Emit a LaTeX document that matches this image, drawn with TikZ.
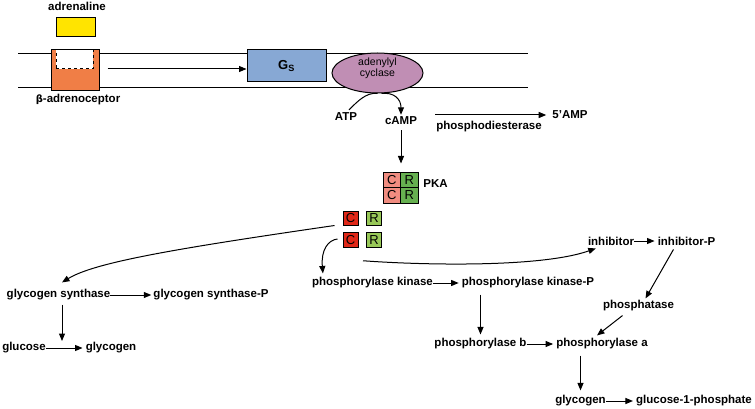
\documentclass[tikz,border=0pt]{standalone}
\usepackage{fontspec}
\setmainfont{Liberation Sans}
\usetikzlibrary{arrows.meta,shapes.geometric}
\definecolor{cyel}{RGB}{255,228,0}
\definecolor{corange}{RGB}{240,126,70}
\definecolor{cblue}{RGB}{135,168,212}
\definecolor{cpurple}{RGB}{192,142,180}
\definecolor{cpink}{RGB}{240,140,128}
\definecolor{cgreen}{RGB}{102,176,80}
\definecolor{cred}{RGB}{224,40,24}
\definecolor{clgreen}{RGB}{152,200,88}
\begin{document}
\begin{tikzpicture}[x=1pt,y=-1pt,
  lbl/.style={font=\fontsize{11.5}{13}\selectfont\bfseries, inner sep=0pt},
  arr/.style={-{Triangle[length=7.5pt,width=6pt]}, line width=1pt},
  plain/.style={line width=1pt},
  cell/.style={draw, line width=1pt, inner sep=0pt, minimum width=17.5pt, minimum height=15.5pt,
    font=\fontsize{13}{14}\selectfont},
  fcell/.style={draw, line width=1pt, inner sep=0pt, minimum width=15pt, minimum height=14.5pt,
    font=\fontsize{13}{14}\selectfont}]
\useasboundingbox (0,0) rectangle (755,409);

% membrane
\draw[plain] (18,54) -- (528,54);
\draw[plain] (18,88) -- (528,88);

% receptor
\node[lbl] (adr) at (77,6) {adrenaline};
\node[draw, fill=cyel, line width=1pt, inner sep=0pt, minimum width=39pt, minimum height=19pt] (yel) at (75.5,27.5) {};
\node[draw, fill=corange, line width=1pt, inner sep=0pt, minimum width=48pt, minimum height=41pt] (rec) at (75,70.5) {};
\node[draw, dashed, fill=white, line width=1pt, inner sep=0pt, minimum width=37pt, minimum height=19pt] (site) at (74.5,59.5) {};
\node[lbl] (beta) at (78,100) {\fontspec{DejaVu Sans}\bfseries\fontsize{10}{12}\selectfont β\fontspec{Liberation Sans}\bfseries\fontsize{11.5}{13}\selectfont -adrenoceptor};

% Gs and adenylyl cyclase
\node[draw, fill=cblue, line width=1pt, inner sep=0pt, minimum width=79pt, minimum height=32pt,
  font=\fontsize{13}{14}\selectfont\bfseries] (gs) at (286.5,66) {G\textsubscript{S}};
\coordinate (a0) at ([xshift=8pt,yshift=1.5pt]rec.east);
\draw[arr] (a0) -- (a0 -| gs.west);
\node[draw, ellipse, fill=cpurple, line width=1pt, inner sep=0pt, minimum width=91pt, minimum height=40pt] (ac) at (377.5,73) {};
\node[align=center, inner sep=0pt, font=\fontsize{10.5}{11}\selectfont] (actext) at (377.5,68.5) {adenylyl\\cyclase};

\node[lbl] (atp) at (346,117) {ATP};
\node[lbl] (camp) at (401,121) {cAMP};
\draw[plain] (ac.south) .. controls (366,92) and (357,102) .. ([xshift=3pt,yshift=3pt]atp.north);
\draw[arr] ([xshift=4pt]ac.south) .. controls (394,92) and (401,99) .. ([yshift=2pt]camp.north);

\node[lbl] (amp) at (570,115) {5\symbol{39}AMP};
\coordinate (pd1) at (435,115);
\draw[arr] (pd1) -- (pd1 -| amp.west) [shorten >=6pt];
\node[lbl] (pde) at (489,127) {phosphodiesterase};

% PKA
\node[cell, fill=cpink] (pc1) at (391.75,179.75) {C};
\node[cell, fill=cgreen] (pr1) at (409.25,179.75) {R};
\node[cell, fill=cpink] (pc2) at (391.75,195.25) {C};
\node[cell, fill=cgreen] (pr2) at (409.25,195.25) {R};
\node[lbl] (pka) at (435.5,184) {PKA};
\draw[arr, shorten <=5pt, shorten >=8pt] (camp.south) -- (camp.south |- pc1.north);

\node[fcell, fill=cred] (c1) at (350.5,218.5) {C};
\node[fcell, fill=clgreen] (r1) at (374,218.5) {R};
\node[fcell, fill=cred] (c2) at (350.5,240) {C};
\node[fcell, fill=clgreen] (r2) at (374,240) {R};

% glycogen synthase branch
\node[lbl] (gsyn) at (58.5,295) {glycogen synthase};
\node[lbl] (gsynp) at (211,295) {glycogen synthase-P};
\node[lbl] (glc) at (24,348) {glucose};
\node[lbl] (gly1) at (111,348) {glycogen};
\draw[arr] ([xshift=-8pt,yshift=-7pt]c1.west) .. controls (180,248) and (95,262) .. ([xshift=3.5pt,yshift=7pt]gsyn.north);
\draw[arr, shorten >=2pt] (gsyn.east) -- (gsynp.west);
\draw[arr, shorten >=3pt] (glc.east) -- (gly1.west);
\coordinate (gg) at (62,347);
\draw[arr, shorten <=4pt, shorten >=6pt] (gsyn.south -| gg) -- (gg);

% phosphorylase branch
\node[lbl] (pk) at (372.5,283) {phosphorylase kinase};
\node[lbl] (pkp) at (528,283) {phosphorylase kinase-P};
\draw[arr] ([xshift=-5pt,yshift=1pt]c2.west) .. controls (328,240) and (321,250) .. ([xshift=11pt,yshift=4pt]pk.north west);
\draw[arr, shorten >=3pt] (pk.east) -- (pkp.west);

\node[lbl] (pb) at (480.5,344) {phosphorylase b};
\node[lbl] (pa) at (602,344) {phosphorylase a};
\draw[arr, shorten <=6pt, shorten >=4pt] (pkp.south -| pb.north) -- (pb.north);
\draw[arr, shorten >=3pt] (pb.east) -- (pa.west);

\node[lbl] (gly2) at (580.5,401) {glycogen};
\node[lbl] (g1p) at (694,401) {glucose-1-phosphate};
\draw[arr, shorten <=6pt, shorten >=5pt] (pa.south -| gly2.north) -- (gly2.north);
\draw[arr, shorten >=3pt] (gly2.east) -- (g1p.west);

% inhibitor branch
\node[lbl] (inh) at (611,241) {inhibitor};
\node[lbl] (inhp) at (686.5,241) {inhibitor-P};
\node[lbl] (phos) at (638.5,306) {phosphatase};
\draw[arr] ([xshift=-11pt,yshift=-13pt]r2.south) .. controls (420,265) and (540,268) .. ([xshift=8pt,yshift=-3pt]inh.south west);
\draw[arr, shorten >=3pt] (inh.east) -- (inhp.west);
\draw[arr] ([xshift=-13pt,yshift=-4pt]inhp.south) -- ([xshift=7pt,yshift=2pt]phos.north);
\draw[arr] ([xshift=-16pt,yshift=-4pt]phos.south) -- ([xshift=-5pt,yshift=3pt]pa.north);
\end{tikzpicture}
\end{document}
